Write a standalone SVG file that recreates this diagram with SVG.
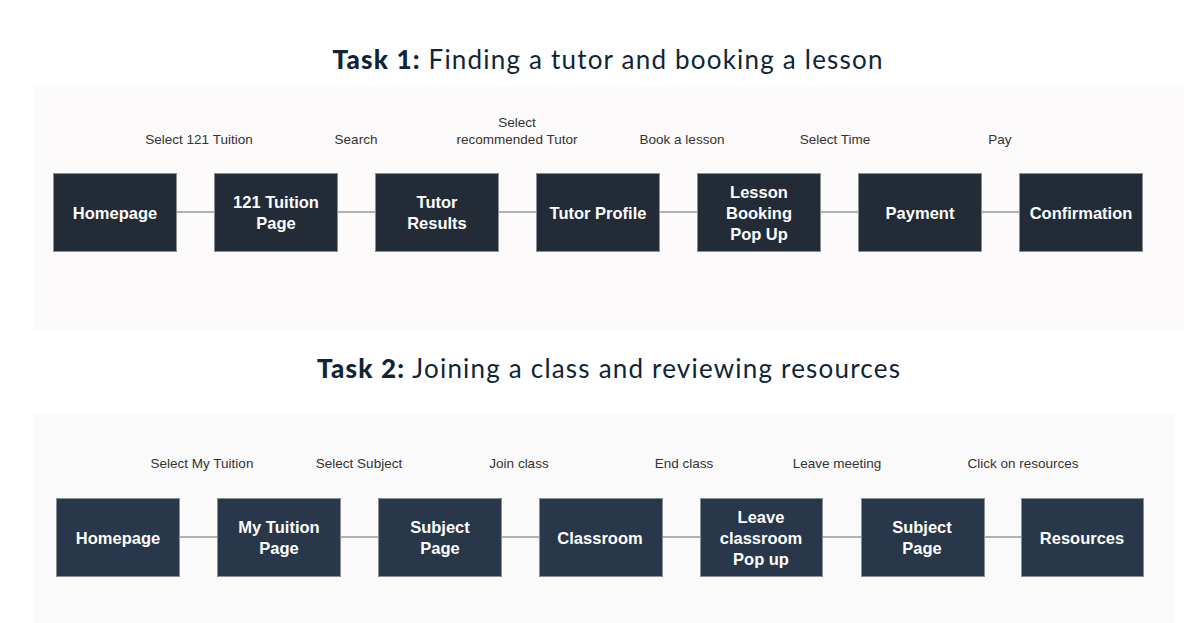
<svg xmlns="http://www.w3.org/2000/svg" width="1184" height="623" viewBox="0 0 1184 623">
<style>
.title{font-family:"Lato","Liberation Sans",sans-serif;font-size:26px;fill:#0f2537;letter-spacing:1.2px}
.title .b{font-weight:900}
.lbl{font-family:"Liberation Sans",Arial,sans-serif;font-size:13.5px;fill:#333;text-anchor:middle}
.n1 rect{fill:#222b36;stroke:#8a8f96;stroke-width:1}
.n2 rect{fill:#283749;stroke:#8a8f96;stroke-width:1}
.node text{font-family:"Liberation Sans",Arial,sans-serif;font-size:16.5px;font-weight:bold;fill:#fff;text-anchor:middle}
.conn line{stroke:#9a9a9a;stroke-width:1.5}
</style>
<rect width="1184" height="623" fill="#ffffff"/>
<rect x="33" y="85" width="1151" height="245" fill="#fcfafa"/>
<rect x="33" y="414" width="1142" height="209" fill="#fafafa"/>
<text class="title" x="608" y="69" text-anchor="middle"><tspan class="b">Task 1:</tspan> Finding a tutor and booking a lesson</text>
<text class="title" x="609" y="378" text-anchor="middle"><tspan class="b">Task 2:</tspan> Joining a class and reviewing resources</text>
<g id="connectors1" class="conn">
<line x1="176" y1="212" x2="214" y2="212"/>
<line x1="337" y1="212" x2="375" y2="212"/>
<line x1="498" y1="212" x2="536" y2="212"/>
<line x1="659" y1="212" x2="697" y2="212"/>
<line x1="820" y1="212" x2="858" y2="212"/>
<line x1="981" y1="212" x2="1019" y2="212"/>
</g>
<g id="labels1">
<text class="lbl" x="199" y="144">Select 121 Tuition</text>
<text class="lbl" x="356" y="144">Search</text>
<text class="lbl" x="517" y="127">Select</text>
<text class="lbl" x="517" y="144">recommended Tutor</text>
<text class="lbl" x="682" y="144">Book a lesson</text>
<text class="lbl" x="835" y="144">Select Time</text>
<text class="lbl" x="1000" y="144">Pay</text>
</g>
<g id="t1-homepage" class="node n1"><rect x="53.5" y="173.5" width="123" height="78"/><text x="115" y="219">Homepage</text></g>
<g id="t1-121tuition" class="node n1"><rect x="214.5" y="173.5" width="123" height="78"/><text x="276" y="208">121 Tuition</text><text x="276" y="229">Page</text></g>
<g id="t1-tutorresults" class="node n1"><rect x="375.5" y="173.5" width="123" height="78"/><text x="437" y="208">Tutor</text><text x="437" y="229">Results</text></g>
<g id="t1-tutorprofile" class="node n1"><rect x="536.5" y="173.5" width="123" height="78"/><text x="598" y="219">Tutor Profile</text></g>
<g id="t1-lessonbooking" class="node n1"><rect x="697.5" y="173.5" width="123" height="78"/><text x="759" y="198">Lesson</text><text x="759" y="219">Booking</text><text x="759" y="240">Pop Up</text></g>
<g id="t1-payment" class="node n1"><rect x="858.5" y="173.5" width="123" height="78"/><text x="920" y="219">Payment</text></g>
<g id="t1-confirmation" class="node n1"><rect x="1019.5" y="173.5" width="123" height="78"/><text x="1081" y="219">Confirmation</text></g>
<g id="connectors2" class="conn">
<line x1="179" y1="537" x2="217" y2="537"/>
<line x1="340" y1="537" x2="378" y2="537"/>
<line x1="501" y1="537" x2="539" y2="537"/>
<line x1="662" y1="537" x2="700" y2="537"/>
<line x1="822" y1="537" x2="861" y2="537"/>
<line x1="984" y1="537" x2="1021" y2="537"/>
</g>
<g id="labels2">
<text class="lbl" x="202" y="468">Select My Tuition</text>
<text class="lbl" x="359" y="468">Select Subject</text>
<text class="lbl" x="519" y="468">Join class</text>
<text class="lbl" x="684" y="468">End class</text>
<text class="lbl" x="837" y="468">Leave meeting</text>
<text class="lbl" x="1023" y="468">Click on resources</text>
</g>
<g id="t2-homepage" class="node n2"><rect x="56.5" y="498.5" width="123" height="78"/><text x="118" y="544">Homepage</text></g>
<g id="t2-mytuition" class="node n2"><rect x="217.5" y="498.5" width="123" height="78"/><text x="279" y="533">My Tuition</text><text x="279" y="554">Page</text></g>
<g id="t2-subject" class="node n2"><rect x="378.5" y="498.5" width="123" height="78"/><text x="440" y="533">Subject</text><text x="440" y="554">Page</text></g>
<g id="t2-classroom" class="node n2"><rect x="539.5" y="498.5" width="123" height="78"/><text x="600" y="544">Classroom</text></g>
<g id="t2-leave" class="node n2"><rect x="700.5" y="498.5" width="122" height="78"/><text x="761" y="523">Leave</text><text x="761" y="544">classroom</text><text x="761" y="565">Pop up</text></g>
<g id="t2-subject2" class="node n2"><rect x="861.5" y="498.5" width="123" height="78"/><text x="922" y="533">Subject</text><text x="922" y="554">Page</text></g>
<g id="t2-resources" class="node n2"><rect x="1021.5" y="498.5" width="122" height="78"/><text x="1082" y="544">Resources</text></g>
</svg>
